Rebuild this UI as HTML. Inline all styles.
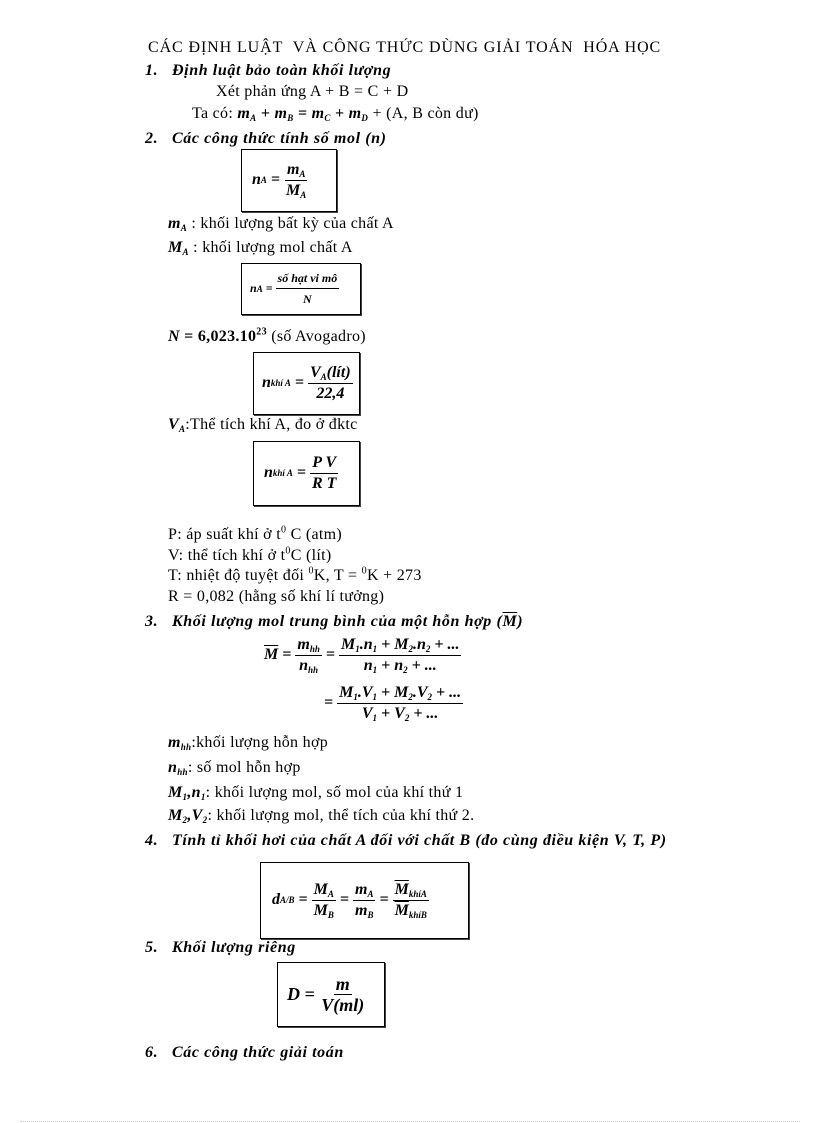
<!DOCTYPE html>
<html><head><meta charset="utf-8">
<style>
body{margin:0;background:#fff;}
#p{position:relative;width:816px;height:1123px;overflow:hidden;font-family:"Liberation Serif",serif;font-size:16px;color:#000;}
.t{position:absolute;white-space:nowrap;line-height:18px;letter-spacing:0.3px;}
.h{font-weight:bold;font-style:italic;letter-spacing:0.6px;}
.b{position:absolute;border:1px solid #000;box-shadow:1px 1px 0 #444;}
.fr{display:inline-flex;flex-direction:column;align-items:center;vertical-align:middle;}
.fr>span{padding:0 2px;line-height:20px;}
.fr>span:first-child{border-bottom:1px solid #000;}
sub{font-size:9px;vertical-align:-3px;line-height:0;}
sup{font-size:10px;line-height:0;}
.eq{position:absolute;display:flex;align-items:center;white-space:nowrap;font-weight:bold;font-style:italic;}
.ov{text-decoration:overline;}
</style></head><body><div id="p">
<div class="t" style="left:148px;top:39px;font-size:16px;letter-spacing:0.9px">CÁC ĐỊNH LUẬT&nbsp; VÀ CÔNG THỨC DÙNG GIẢI TOÁN&nbsp; HÓA HỌC</div>
<div class="t h" style="left:145px;top:62px">1.&nbsp;&nbsp; Định luật bảo toàn khối lượng</div>
<div class="t" style="left:216px;top:83px">Xét phản ứng A + B = C + D</div>
<div class="t" style="left:192px;top:105px">Ta có: <b><i>m<sub>A</sub> + m<sub>B</sub> = m<sub>C</sub> + m<sub>D</sub></i></b> + (A, B còn dư)</div>
<div class="t h" style="left:145px;top:130px">2.&nbsp;&nbsp; Các công thức tính số mol (n)</div>
<div class="b" style="left:241px;top:149px;width:94px;height:61px"></div>
<div class="eq" style="left:252px;top:149px;height:62px">n<sub>A</sub>&nbsp;=&nbsp;<span class="fr"><span>m<sub>A</sub></span><span>M<sub>A</sub></span></span></div>
<div class="t" style="left:168px;top:215px"><b><i>m<sub>A</sub></i></b> : khối lượng bất kỳ của chất A</div>
<div class="t" style="left:168px;top:239px"><b><i>M<sub>A</sub></i></b> : khối lượng mol chất A</div>
<div class="b" style="left:241px;top:263px;width:118px;height:50px"></div>
<div class="eq" style="left:250px;top:263px;height:51px;font-size:12px">n<sub>A</sub>&nbsp;=&nbsp;<span class="fr"><span>số hạt vi mô</span><span>N</span></span></div>
<div class="t" style="left:168px;top:328px"><b><i>N</i> = 6,023.10<sup>23</sup></b> (số Avogadro)</div>
<div class="b" style="left:253px;top:352px;width:105px;height:61px"></div>
<div class="eq" style="left:262px;top:352px;height:62px">n<sub>khí A</sub>&nbsp;=&nbsp;<span class="fr"><span>V<sub>A</sub>(lít)</span><span>22,4</span></span></div>
<div class="t" style="left:168px;top:416px"><b><i>V<sub>A</sub></i></b>:Thể tích khí A, đo ở đktc</div>
<div class="b" style="left:253px;top:441px;width:105px;height:63px"></div>
<div class="eq" style="left:264px;top:441px;height:64px">n<sub>khí A</sub>&nbsp;=&nbsp;<span class="fr"><span>P V</span><span>R T</span></span></div>
<div class="t" style="left:168px;top:526px">P: áp suất khí ở t<sup>0</sup> C (atm)</div>
<div class="t" style="left:168px;top:547px">V: thể tích khí ở t<sup>0</sup>C (lít)</div>
<div class="t" style="left:168px;top:567px">T: nhiệt độ tuyệt đối <sup>0</sup>K, T = <sup>0</sup>K + 273</div>
<div class="t" style="left:168px;top:588px">R = 0,082 (hằng số khí lí tưởng)</div>
<div class="t h" style="left:145px;top:613px">3.&nbsp;&nbsp; Khối lượng mol trung bình của một hỗn hợp (<span class="ov">M</span>)</div>
<div class="eq" style="left:264px;top:634px;height:42px"><span class="ov">M</span>&nbsp;=&nbsp;<span class="fr"><span>m<sub>hh</sub></span><span>n<sub>hh</sub></span></span>&nbsp;=&nbsp;<span class="fr"><span>M<sub>1</sub>.n<sub>1</sub> + M<sub>2</sub>.n<sub>2</sub> + ...</span><span>n<sub>1</sub> + n<sub>2</sub> + ...</span></span></div>
<div class="eq" style="left:324px;top:682px;height:42px">=&nbsp;<span class="fr"><span>M<sub>1</sub>.V<sub>1</sub> + M<sub>2</sub>.V<sub>2</sub> + ...</span><span>V<sub>1</sub> + V<sub>2</sub> + ...</span></span></div>
<div class="t" style="left:168px;top:734px"><b><i>m<sub>hh</sub></i></b>:khối lượng hỗn hợp</div>
<div class="t" style="left:168px;top:759px"><b><i>n<sub>hh</sub></i></b>: số mol hỗn hợp</div>
<div class="t" style="left:168px;top:784px"><b><i>M<sub>1</sub>,n<sub>1</sub></i></b>: khối lượng mol, số mol của khí thứ 1</div>
<div class="t" style="left:168px;top:807px"><b><i>M<sub>2</sub>,V<sub>2</sub></i></b>: khối lượng mol, thể tích của khí thứ 2.</div>
<div class="t h" style="left:145px;top:832px">4.&nbsp;&nbsp; Tính tỉ khối hơi của chất A đối với chất B (đo cùng điều kiện V, T, P)</div>
<div class="b" style="left:260px;top:862px;width:207px;height:75px"></div>
<div class="eq" style="left:272px;top:862px;height:76px">d<sub>A/B</sub>&nbsp;=&nbsp;<span class="fr"><span>M<sub>A</sub></span><span>M<sub>B</sub></span></span>&nbsp;=&nbsp;<span class="fr"><span>m<sub>A</sub></span><span>m<sub>B</sub></span></span>&nbsp;=&nbsp;<span class="fr"><span><span class="ov">M</span><sub>khíA</sub></span><span><span class="ov">M</span><sub>khíB</sub></span></span></div>
<div class="t h" style="left:145px;top:939px">5.&nbsp;&nbsp; Khối lượng riêng</div>
<div class="b" style="left:277px;top:962px;width:106px;height:63px"></div>
<div class="eq" style="left:287px;top:962px;height:64px;font-size:18px">D&nbsp;=&nbsp;<span class="fr"><span>m</span><span>V(ml)</span></span></div>
<div class="t h" style="left:145px;top:1044px">6.&nbsp;&nbsp; Các công thức giải toán</div>
<div style="position:absolute;left:20px;top:1121px;width:780px;border-top:1px dotted #ccc"></div>
</div></body></html>
